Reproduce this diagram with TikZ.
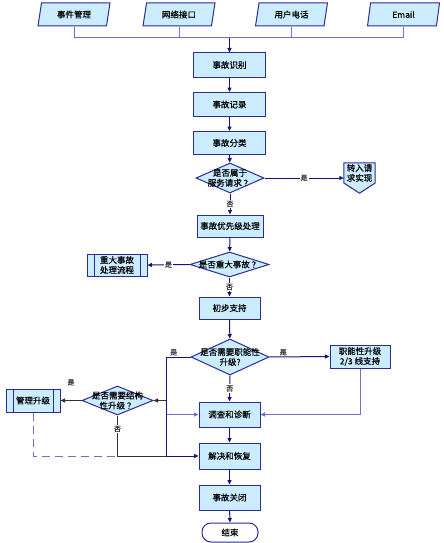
\documentclass[tikz,border=0pt]{standalone}
\usepackage{fontspec}
\setmainfont{Noto Sans CJK SC}
\newfontfamily\chartfont{Noto Sans CJK SC}[FakeBold=0.4]
\usetikzlibrary{arrows.meta,shapes.geometric}
\definecolor{boxfill}{HTML}{CCECFF}
\definecolor{boxedge}{HTML}{2B2B99}
\definecolor{darkflow}{HTML}{141480}
\definecolor{lightflow}{HTML}{7070C4}
\definecolor{greyflow}{HTML}{333333}
\tikzset{
  boxtext/.style   = {font=\chartfont\fontsize{8.5}{10}\selectfont, align=center},
  proc/.style      = {rectangle, draw=boxedge, fill=boxfill, line width=1pt,
                      inner sep=0pt, boxtext},
  subproc/.style   = {proc, path picture={
                        \draw[boxedge, line width=1pt]
                          ([xshift=7pt]path picture bounding box.north west) --
                          ([xshift=7pt]path picture bounding box.south west)
                          ([xshift=-7pt]path picture bounding box.north east) --
                          ([xshift=-7pt]path picture bounding box.south east);}},
  channel/.style   = {trapezium, trapezium left angle=66, trapezium right angle=114,
                      trapezium stretches body=true, draw=boxedge, fill=boxfill,
                      line width=1pt, inner sep=0pt, minimum width=72pt,
                      minimum height=23pt, boxtext},
  decision/.style  = {diamond, draw=boxedge, fill=boxfill, line width=1pt,
                      inner sep=0pt},
  dtext/.style     = {boxtext, inner sep=0pt},
  terminal/.style  = {rectangle, rounded corners=9pt, draw=boxedge, fill=white,
                      line width=1pt, inner sep=0pt, boxtext},
  flow/.style      = {draw=darkflow, line width=1pt,
                      -{Triangle[length=4.5pt,width=4pt]}},
  lightlink/.style = {draw=lightflow, line width=1pt},
  greylink/.style  = {draw=greyflow, line width=1pt},
  yesno/.style     = {font=\chartfont\fontsize{7}{8}\selectfont, text=greyflow,
                      fill=white, inner sep=1pt},
}
\begin{document}
\begin{tikzpicture}[x=1pt,y=-1pt]
  \useasboundingbox[fill=white] (0,0) rectangle (444,543);

  % ---------------- input channels ----------------------------------------
  \node[channel] (evt)  at (74,14.5)    {事件管理};
  \node[channel] (net)  at (179,14.5)   {网络接口};
  \node[channel] (tel)  at (291.5,14.5) {用户电话};
  \node[channel] (mail) at (403.5,14.5) {Email};
  \coordinate (bus) at (229.5,38);
  \foreach \src in {evt,net,tel,mail}
    \draw[lightlink] (\src.south -| \src.center) |- (bus);

  % ---------------- main column ---------------------------------------------
  \node[proc, minimum width=72pt, minimum height=24pt] (ident)    at (229.5,65)  {事故识别};
  \node[proc, minimum width=72pt, minimum height=24pt] (record)   at (229.5,104.5) {事故记录};
  \node[proc, minimum width=72pt, minimum height=23pt] (classify) at (229.5,143) {事故分类};
  \node[decision, minimum width=68pt, minimum height=30pt,
        label={[dtext]center:{是否属于\\服务请求 ？}}] (svcq) at (230,178) {};
  \node[proc, minimum width=66pt, minimum height=22pt] (prio)     at (230,226)   {事故优先级处理};
  \node[decision, minimum width=79pt, minimum height=25pt,
        label={[dtext]center:{是否重大事故 ？}}] (majq) at (229.5,264.5) {};
  \node[proc, minimum width=61pt, minimum height=22pt] (first)    at (229.5,308) {初步支持};
  \node[decision, minimum width=78pt, minimum height=36pt,
        label={[dtext]center:{是否需要职能性\\升级?}}] (funq) at (230,357) {};
  \node[proc, minimum width=61pt, minimum height=25pt] (diag)     at (229.5,414.5) {调查和诊断};
  \node[proc, minimum width=61pt, minimum height=26pt] (resolve)  at (229.5,456) {解决和恢复};
  \node[proc, minimum width=61pt, minimum height=25pt] (close)    at (229.5,497.5) {事故关闭};
  \node[terminal, minimum width=56pt, minimum height=19pt] (stop) at (230,532.5) {结束};

  % ---------------- side branches ---------------------------------------------
  \node[minimum width=31pt, minimum height=30pt, inner sep=0pt] (svc) at (359.5,178) {};
  \draw[draw=boxedge, fill=boxfill, line width=1pt]
       (svc.north west) -- (svc.north east) -- ([yshift=-5pt]svc.east) --
       (svc.south) -- ([yshift=-5pt]svc.west) -- cycle;
  \node[dtext] (svctext) at ([yshift=5pt]svc.center) {转入请\\求实现};
  \node[subproc, minimum width=60pt, minimum height=22pt] (majorflow) at (117,265) {重大事故\\处理流程};
  \node[proc, minimum width=60pt, minimum height=23pt] (func) at (360,356.5) {职能性升级\\2/3 线支持};
  \node[decision, minimum width=71pt, minimum height=29pt,
        label={[dtext]center:{是否需要结构\\性升级 ？}}] (structq) at (117.5,400.5) {};
  \node[subproc, minimum width=54pt, minimum height=23pt] (mgmt) at (33,400.5) {管理升级};
  \coordinate (trunk) at (166,357);

  % ---------------- connectors --------------------------------------------------
  \draw[flow] (bus) -- (ident);
  \draw[flow] (ident) -- (record);
  \draw[flow] (record) -- (classify);
  \draw[flow] (classify) -- (svcq);
  \draw[flow] (svcq.east) -- node[yesno] {是} (svc.west);
  \draw[flow] (svcq.south) -- node[yesno] {否} (prio.north);
  \draw[flow] (prio) -- (majq);
  \draw[flow] (majq.west) -- node[yesno] {是} (majorflow.east);
  \draw[flow] (majq.south) -- node[yesno] {否} (first.north);
  \draw[flow] (first) -- (funq);
  \draw[flow] (funq.east) -- node[yesno, fill=none, above, pos=.23] {是} (func.west);
  \draw[flow] (funq.south) -- node[yesno] {否} (diag.north);
  \draw[flow, draw=lightflow] (func.south) |- (diag.east);
  \draw[flow, draw=lightflow] (trunk |- diag.west) -- (diag.west);
  \draw[flow, draw=greyflow] (trunk |- structq.east) -- (structq.east);
  \draw[flow, draw=greyflow] (structq.west) -- node[yesno, fill=none, yshift=18pt] {是} (mgmt.east);
  \draw[lightlink, dashed, dash pattern=on 8pt off 5pt] (mgmt.south) |- (structq.south |- resolve.west);
  \draw[greylink] (structq.south) -- node[yesno, pos=.33] {否} (structq.south |- resolve.west)
                  -- (trunk |- resolve.west);
  \draw[flow] (funq.west) -- node[yesno, fill=none, above, pos=.68] {是} (trunk) |- (resolve.west);
  \draw[flow] (diag) -- (resolve);
  \draw[flow] (resolve) -- (close);
  \draw[flow] (close) -- (stop);
\end{tikzpicture}
\end{document}
